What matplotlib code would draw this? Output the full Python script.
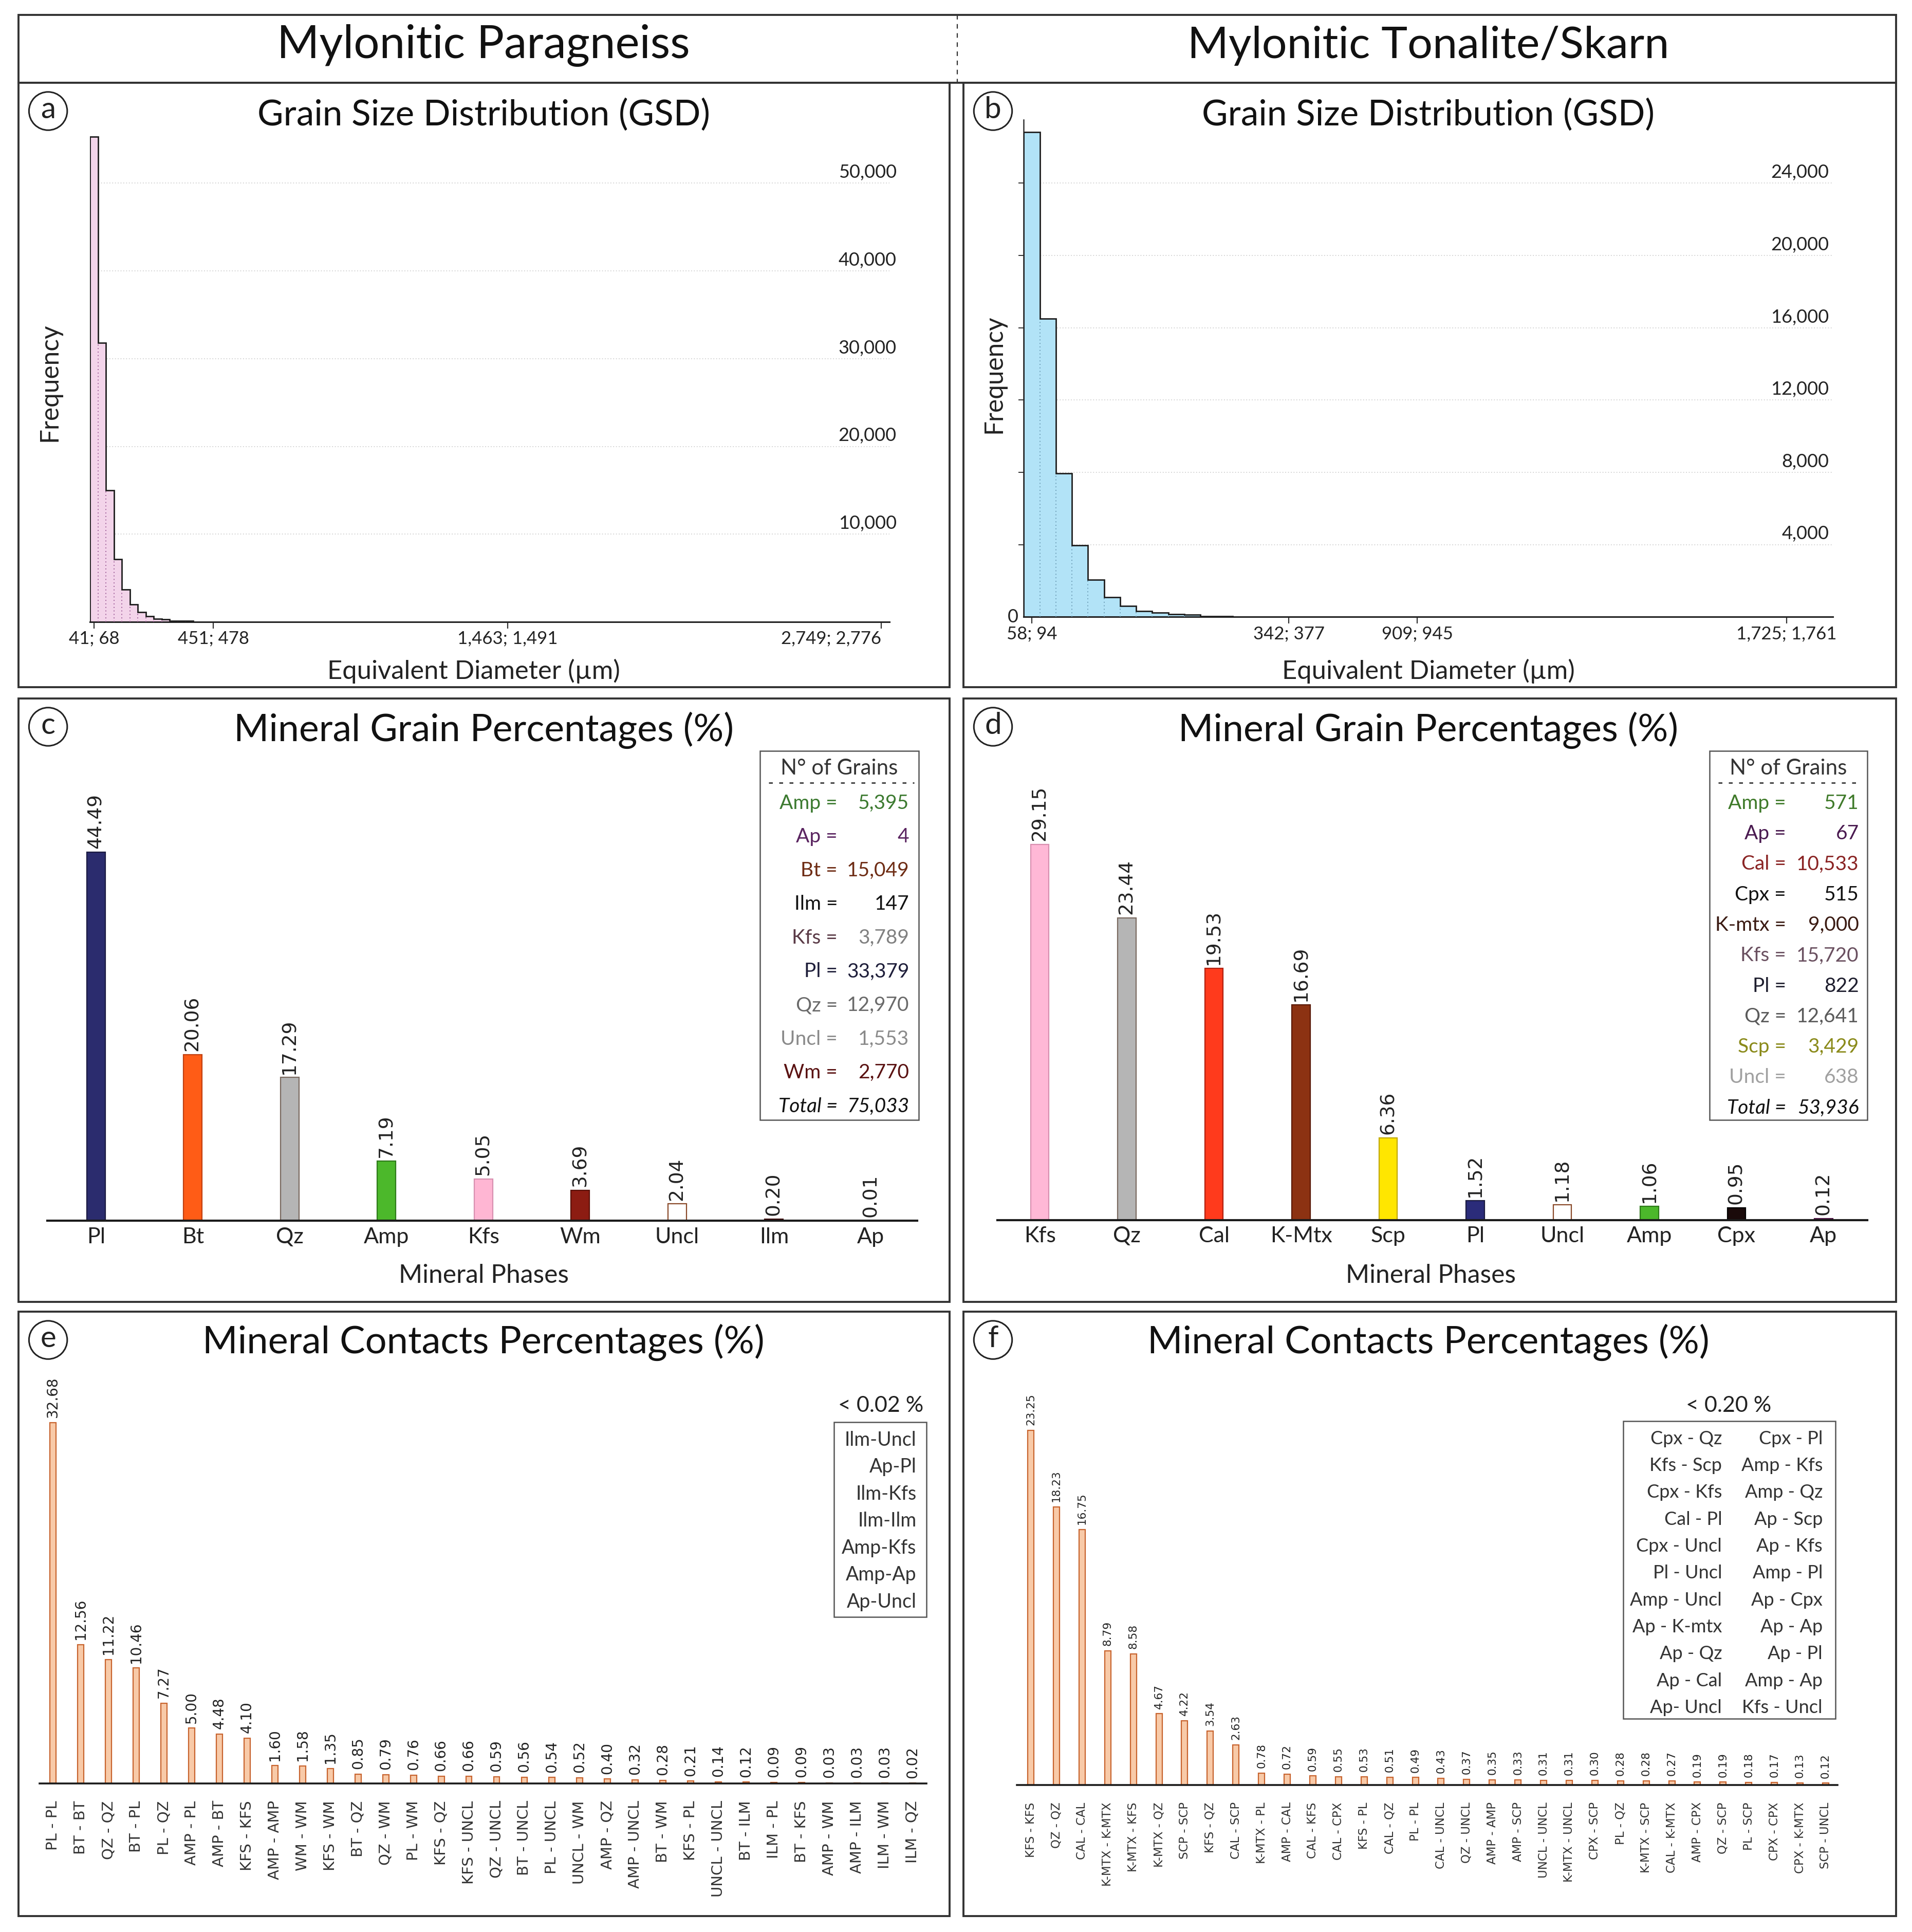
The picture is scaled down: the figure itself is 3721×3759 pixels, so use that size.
import matplotlib
matplotlib.use('Agg')
import matplotlib.pyplot as plt
import numpy as np
from matplotlib.patches import Rectangle, Ellipse
from matplotlib.lines import Line2D
from matplotlib import font_manager as fm

# ---------------- data ----------------
gsd_a_start = 41.0
gsd_a_width = 27.35
gsd_a_counts = [55290, 31790, 15020, 7130, 3710, 2010, 1095, 625, 350, 310, 135, 135, 135]
gsd_a_tick_bins = [0, 15, 52, 99]
gsd_a_tick_labels = ["41; 68", "451; 478", "1,463; 1,491", "2,749; 2,776"]
gsd_a_yticks = [10000, 20000, 30000, 40000, 50000]

gsd_b_start = 58.0
gsd_b_width = 35.5
gsd_b_counts = [26830, 16500, 7950, 3950, 2050, 1100, 613, 321, 243, 146, 126, 50, 50]
gsd_b_tick_bins = [0, 16, 24, 47]
gsd_b_tick_labels = ["58; 94", "342; 377", "909; 945", "1,725; 1,761"]
gsd_b_yticks = [4000, 8000, 12000, 16000, 20000, 24000]

minerals_c = ["Pl", "Bt", "Qz", "Amp", "Kfs", "Wm", "Uncl", "Ilm", "Ap"]
pct_c = [44.49, 20.06, 17.29, 7.19, 5.05, 3.69, 2.04, 0.20, 0.01]
colors_c = ["#2b2c6e", "#ff5c16", "#b5b5b5", "#4cb82b", "#ffb6d3", "#8c1c12", "#ffffff", "#5a1c1c", "#7a2a6a"]
edges_c = ["#1a1a40", "#c04010", "#7a6a60", "#2e7a1a", "#d890b0", "#5a1008", "#8a4a2a", "#3a0a0a", "#4a1040"]
grains_c_names = ["Amp", "Ap", "Bt", "Ilm", "Kfs", "Pl", "Qz", "Uncl", "Wm"]
grains_c_counts = [5395, 4, 15049, 147, 3789, 33379, 12970, 1553, 2770]
grains_c_total = 75033
grains_c_colors = ["#3c7a30", "#5a2460", "#6e2c14", "#111111", "#5a3a46", "#1e1e3a", "#6a6a6a", "#8a8a8a", "#5a1212"]
grains_c_valcolors = ["#3c7a30", "#5a2460", "#6e2c14", "#111111", "#808080", "#1e1e3a", "#6a6a6a", "#8a8a8a", "#5a1212"]

minerals_d = ["Kfs", "Qz", "Cal", "K-Mtx", "Scp", "Pl", "Uncl", "Amp", "Cpx", "Ap"]
pct_d = [29.15, 23.44, 19.53, 16.69, 6.36, 1.52, 1.18, 1.06, 0.95, 0.12]
colors_d = ["#ffb8d6", "#b5b5b5", "#ff3a1c", "#8c3212", "#ffe600", "#2b2c7a", "#ffffff", "#4cb82b", "#1a0a0a", "#8a2a6a"]
edges_d = ["#d890b0", "#7a6a60", "#b02010", "#5a1a08", "#c0a800", "#1a1a40", "#8a4a2a", "#2e7a1a", "#000000", "#4a1040"]
grains_d_names = ["Amp", "Ap", "Cal", "Cpx", "K-mtx", "Kfs", "Pl", "Qz", "Scp", "Uncl"]
grains_d_counts = [571, 67, 10533, 515, 9000, 15720, 822, 12641, 3429, 638]
grains_d_total = 53936
grains_d_colors = ["#3f7a2a", "#4a1a50", "#8a2424", "#111111", "#3a1a12", "#6a5060", "#1e1e2e", "#5a5a5a", "#8a8a1a", "#a0a0a0"]

contacts_e = ["PL - PL", "BT - BT", "QZ - QZ", "BT - PL", "PL - QZ", "AMP - PL", "AMP - BT", "KFS - KFS",
              "AMP - AMP", "WM - WM", "KFS - WM", "BT - QZ", "QZ - WM", "PL - WM", "KFS - QZ", "KFS - UNCL",
              "QZ - UNCL", "BT - UNCL", "PL - UNCL", "UNCL - WM", "AMP - QZ", "AMP - UNCL", "BT - WM", "KFS - PL",
              "UNCL - UNCL", "BT - ILM", "ILM - PL", "BT - KFS", "AMP - WM", "AMP - ILM", "ILM - WM", "ILM - QZ"]
pct_e = [32.68, 12.56, 11.22, 10.46, 7.27, 5.00, 4.48, 4.10, 1.60, 1.58, 1.35, 0.85, 0.79, 0.76, 0.66, 0.66,
         0.59, 0.56, 0.54, 0.52, 0.40, 0.32, 0.28, 0.21, 0.14, 0.12, 0.09, 0.09, 0.03, 0.03, 0.03, 0.02]
minor_e = ["Ilm-Uncl", "Ap-Pl", "Ilm-Kfs", "Ilm-Ilm", "Amp-Kfs", "Amp-Ap", "Ap-Uncl"]

contacts_f = ["KFS - KFS", "QZ - QZ", "CAL - CAL", "K-MTX - K-MTX", "K-MTX - KFS", "K-MTX - QZ", "SCP - SCP",
              "KFS - QZ", "CAL - SCP", "K-MTX - PL", "AMP - CAL", "CAL - KFS", "CAL - CPX", "KFS - PL", "CAL - QZ",
              "PL - PL", "CAL - UNCL", "QZ - UNCL", "AMP - AMP", "AMP - SCP", "UNCL - UNCL", "K-MTX - UNCL",
              "CPX - SCP", "PL - QZ", "K-MTX - SCP", "CAL - K-MTX", "AMP - CPX", "QZ - SCP", "PL - SCP",
              "CPX - CPX", "CPX - K-MTX", "SCP - UNCL"]
pct_f = [23.25, 18.23, 16.75, 8.79, 8.58, 4.67, 4.22, 3.54, 2.63, 0.78, 0.72, 0.59, 0.55, 0.53, 0.51, 0.49,
         0.43, 0.37, 0.35, 0.33, 0.31, 0.31, 0.30, 0.28, 0.28, 0.27, 0.19, 0.19, 0.18, 0.17, 0.13, 0.12]
minor_f_col1 = ["Cpx - Qz", "Kfs - Scp", "Cpx - Kfs", "Cal - Pl", "Cpx - Uncl", "Pl - Uncl", "Amp - Uncl",
                "Ap - K-mtx", "Ap - Qz", "Ap - Cal", "Ap- Uncl"]
minor_f_col2 = ["Cpx - Pl", "Amp - Kfs", "Amp - Qz", "Ap - Scp", "Ap - Kfs", "Amp - Pl", "Ap - Cpx",
                "Ap - Ap", "Ap - Pl", "Amp - Ap", "Kfs - Uncl"]

# ---------------- setup ----------------
W, H = 3721, 3759
S = 2.4006
DW, DH = W / S, H / S
SANS = ['Lato', 'DejaVu Sans']
VERD = ['DejaVu Sans']


def has_font(name):
    try:
        fm.findfont(name, fallback_to_default=False)
        return True
    except Exception:
        return False


NARROW = ['Liberation Sans Narrow', 'Lato', 'DejaVu Sans'] if has_font('Liberation Sans Narrow') else SANS

plt.rcParams['font.family'] = SANS
fig = plt.figure(figsize=(W / 100, H / 100), dpi=100)
fig.patch.set_facecolor('white')


def fx(x):
    return x / DW


def fy(y):
    return 1 - y / DH


def add_ax(x0, y0, x1, y1):
    return fig.add_axes([fx(x0), fy(y1), (x1 - x0) / DW, (y1 - y0) / DH])


def ftext(x, y, s, **kw):
    kw.setdefault('family', SANS)
    return fig.text(fx(x), fy(y), s, **kw)


renderer = fig.canvas.get_renderer()


def fit(t, target_disp):
    w = t.get_window_extent(renderer).width
    t.set_fontsize(t.get_fontsize() * target_disp * S / w)


BORDER = '#333333'


def box(x0, y0, x1, y1, lw=2.8, color=BORDER):
    fig.add_artist(Rectangle((fx(x0), fy(y1)), (x1 - x0) / DW, (y1 - y0) / DH, transform=fig.transFigure,
                             fill=False, lw=lw, edgecolor=color))


def circ_label(x, y, s):
    fig.add_artist(Ellipse((fx(x), fy(y)), 31 / DW, 31 / DH, transform=fig.transFigure, fill=False,
                           lw=2.2, edgecolor='#222222'))
    ftext(x, y - 1, s, ha='center', va='center', fontsize=42, color='#222222')


# header
box(15, 12, 1537, 67)
fig.add_artist(Line2D([fx(776), fx(776)], [fy(12), fy(67)], transform=fig.transFigure, color='#333333',
                      lw=1.6, ls=(0, (4, 4))))
t = ftext(392, 37, "Mylonitic Paragneiss", ha='center', va='center', fontsize=50, color='#111111')
fit(t, 335)
t = ftext(1158, 37, "Mylonitic Tonalite/Skarn", ha='center', va='center', fontsize=50, color='#111111')
fit(t, 390)

panels = {'a': (15, 67, 770, 557), 'b': (781, 67, 1537, 557),
          'c': (15, 566, 770, 1055), 'd': (781, 566, 1537, 1055),
          'e': (15, 1063, 770, 1553), 'f': (781, 1063, 1537, 1553)}
for k, (x0, y0, x1, y1) in panels.items():
    box(x0, y0, x1, y1)
    circ_label(x0 + 24, y0 + 23, k)

titles = {'a': ("Grain Size Distribution (GSD)", 367, 93), 'b': ("Grain Size Distribution (GSD)", 367, 93),
          'c': ("Mineral Grain Percentages (%)", 405, 592), 'd': ("Mineral Grain Percentages (%)", 405, 592),
          'e': ("Mineral Contacts Percentages (%)", 455, 1088), 'f': ("Mineral Contacts Percentages (%)", 455, 1088)}
for k, (s, wdt, yy) in titles.items():
    cx = 392 if k in 'ace' else 1158
    t = ftext(cx, yy, s, ha='center', va='center', fontsize=50, color='#111111')
    fit(t, wdt)


# ---------------- GSD histograms ----------------
def gsd(ax, start, width, counts, tick_bins, tick_labels, yticks, xmax, ymax, fill, dotc, lab_x, left_spine,
        last_right):
    counts = np.array(counts, dtype=float)
    edges = start + width * np.arange(len(counts) + 1)
    ax.bar(edges[:-1], counts, width=width, align='edge', color=fill, edgecolor='none', zorder=2)
    inner = np.minimum(counts[:-1], counts[1:])
    ax.vlines(edges[1:-1], 0, inner, colors=dotc, linestyles=(0, (1, 2.5)), lw=1.4, zorder=3)
    ax.stairs(counts, edges, color='#1e1e1e', lw=2.0, zorder=4)
    for v in yticks:
        ax.axhline(v, color='#cfcfcf', lw=1.3, ls=(0, (1, 2)), zorder=1)
        ax.annotate(f"{v:,}", xy=(lab_x, v), xycoords=('axes fraction', 'data'), xytext=(0, 3),
                    textcoords='offset points', ha='right', va='bottom', fontsize=26, color='#222222',
                    family=SANS)
    ax.set_xlim(start, xmax)
    ax.set_ylim(0, ymax)
    centers = [start + width * (b + 0.5) for b in tick_bins]
    ax.set_xticks(centers)
    ax.set_xticklabels(tick_labels, fontsize=25, color='#222222')
    if last_right:
        ax.get_xticklabels()[-1].set_horizontalalignment('right')
    ax.tick_params(axis='x', length=9, width=1.6, color='#333333', pad=3)
    for sp in ['top', 'right']:
        ax.spines[sp].set_visible(False)
    ax.spines['bottom'].set_linewidth(2.2)
    ax.spines['bottom'].set_color('#222222')
    if left_spine:
        ax.spines['left'].set_linewidth(1.8)
        ax.spines['left'].set_color('#333333')
        ax.set_yticks(yticks)
        ax.set_yticklabels([])
        ax.tick_params(axis='y', length=7, width=1.4, color='#333333', direction='out')
    else:
        ax.set_yticks([])
        ax.spines['left'].set_visible(False)
    ax.patch.set_alpha(0)


ax_a = add_ax(73, 105.8, 721, 504)
gsd(ax_a, gsd_a_start, gsd_a_width, gsd_a_counts, gsd_a_tick_bins, gsd_a_tick_labels, gsd_a_yticks,
    gsd_a_start + 100.5 * gsd_a_width, 56000, '#f3d4ea', '#a0609a', 1.009, False, True)

ax_b = add_ax(830, 97.2, 1486, 500)
gsd(ax_b, gsd_b_start, gsd_b_width, gsd_b_counts, gsd_b_tick_bins, gsd_b_tick_labels, gsd_b_yticks,
    1847, 27500, '#b2e3f7', '#6f9fb8', 0.995, True, False)
ax_b.annotate("0", xy=(0, 0), xycoords='axes fraction', xytext=(-8, 0), textcoords='offset points',
              ha='right', va='center', fontsize=26, color='#222222')

for cx, cy in [(40, 310), (806, 303)]:
    t = ftext(cx, cy, "Frequency", ha='center', va='center', rotation=90, fontsize=30, color='#222222')
    fit_w = t.get_window_extent(renderer).height
    t.set_fontsize(t.get_fontsize() * 96 * S / fit_w)
for cx in [384, 1158]:
    t = ftext(cx, 544, "Equivalent Diameter (µm)", ha='center', va='center', fontsize=30, color='#222222')
    fit(t, 237)


# ---------------- mineral grain percentages ----------------
def grain_bars(ax, names, vals, cols, ecols, bw, xlim, ymax, fs_val):
    x = np.arange(len(names))
    ax.bar(x, vals, width=bw, color=cols, edgecolor=ecols, lw=1.6, zorder=2)
    for xi, v in zip(x, vals):
        ax.annotate(f"{v:.2f}", xy=(xi, v), xytext=(0, 5), textcoords='offset points', rotation=90,
                    ha='center', va='bottom', fontsize=fs_val, color='#222222', family=VERD)
    ax.set_xlim(*xlim)
    ax.set_ylim(0, ymax)
    ax.set_xticks(x)
    ax.set_xticklabels(names, fontsize=31, color='#222222')
    ax.tick_params(axis='x', length=0, pad=9)
    ax.set_yticks([])
    for sp in ['top', 'right', 'left']:
        ax.spines[sp].set_visible(False)
    ax.spines['bottom'].set_linewidth(3.0)
    ax.spines['bottom'].set_color('#1a1a1a')
    ax.patch.set_alpha(0)


ax_c = add_ax(38.5, 653.5, 743.7, 989.5)
grain_bars(ax_c, minerals_c, pct_c, colors_c, edges_c, 0.19, (-0.5, 8.48), 50, 27)
ax_d = add_ax(808.4, 654.7, 1513.6, 988.8)
grain_bars(ax_d, minerals_d, pct_d, colors_d, edges_d, 0.21, (-0.49, 9.5), 32, 27)

for cx in [392, 1160]:
    t = ftext(cx, 1034, "Mineral Phases", ha='center', va='center', fontsize=30, color='#222222')
    fit(t, 138)


def grains_box(x0, y0, x1, y1, eq_x, num_x, y_first, dy, names, counts, cols, valcols, total):
    box(x0, y0, x1, y1, lw=1.8, color='#555555')
    t = ftext((x0 + x1) / 2, 622.7, "N° of Grains", ha='center', va='center', fontsize=30, color='#333333')
    fit(t, 95)
    fig.add_artist(Line2D([fx(x0 + 7), fx(x1 - 4)], [fy(634.5), fy(634.5)], transform=fig.transFigure,
                          color='#222222', lw=1.8, ls=(0, (3, 5))))
    for i, (n, c, col, vc) in enumerate(zip(names, counts, cols, valcols)):
        yy = y_first + dy * i
        ftext(eq_x, yy, f"{n} =", ha='right', va='center', fontsize=28, color=col)
        ftext(num_x, yy, f"{c:,}", ha='right', va='center', fontsize=28, color=vc)
    yy = y_first + dy * len(names)
    ftext(eq_x, yy, "Total =", ha='right', va='center', fontsize=28, color='#111111', style='italic')
    ftext(num_x, yy, f"{total:,}", ha='right', va='center', fontsize=28, color='#111111', style='italic')


grains_box(616, 608.6, 745, 907.7, 679, 737, 651, 27.3, grains_c_names, grains_c_counts,
           grains_c_colors, grains_c_valcolors, grains_c_total)
grains_box(1386, 608.6, 1513.6, 907.7, 1448, 1507, 651, 24.7, grains_d_names, grains_d_counts,
           grains_d_colors, grains_d_colors, grains_d_total)


# ---------------- contacts ----------------
def contact_bars(ax, names, vals, bw, xlim, ymax, fs_val, fs_tick, pad):
    x = np.arange(len(names))
    ax.bar(x, vals, width=bw, color='#f8caa8', edgecolor='#c8642e', lw=1.6, zorder=2)
    for xi, v in zip(x, vals):
        ax.annotate(f"{v:.2f}", xy=(xi, v), xytext=(0, 7), textcoords='offset points', rotation=90,
                    ha='center', va='bottom', fontsize=fs_val, color='#222222', family=VERD)
    ax.set_xlim(*xlim)
    ax.set_ylim(0, ymax)
    ax.set_xticks(x)
    ax.set_xticklabels(names, rotation=90, fontsize=fs_tick, color='#333333', family=VERD, va='top')
    ax.tick_params(axis='x', length=0, pad=pad)
    ax.set_yticks([])
    for sp in ['top', 'right', 'left']:
        ax.spines[sp].set_visible(False)
    ax.spines['bottom'].set_linewidth(2.6)
    ax.spines['bottom'].set_color('#1a1a1a')
    ax.patch.set_alpha(0)


ax_e = add_ax(32.2, 1141.3, 751, 1445.4)
contact_bars(ax_e, contacts_e, pct_e, 0.22, (-0.48, 31.5), 34, 20, 21, 24)
ax_f = add_ax(824.2, 1143.7, 1489.8, 1446.7)
contact_bars(ax_f, contacts_f, pct_f, 0.24, (-0.55, 31.47), 24.5, 15.5, 16.5, 24)

# minor contacts boxes
ftext(714, 1139.4, "< 0.02 %", ha='center', va='center', fontsize=31, color='#222222')
box(676, 1152.8, 751, 1310.6, lw=1.8, color='#555555')
for i, s in enumerate(minor_e):
    ftext(743, 1167 + 21.9 * i, s, ha='right', va='center', fontsize=27, color='#333333', family=NARROW)

ftext(1401.5, 1139.4, "< 0.20 %", ha='center', va='center', fontsize=31, color='#222222')
box(1316, 1152, 1488, 1393, lw=1.8, color='#555555')
for i, (s1, s2) in enumerate(zip(minor_f_col1, minor_f_col2)):
    ftext(1396, 1166 + 21.8 * i, s1, ha='right', va='center', fontsize=26, color='#333333', family=NARROW)
    ftext(1477.5, 1166 + 21.8 * i, s2, ha='right', va='center', fontsize=26, color='#333333', family=NARROW)

fig.savefig('out.png', dpi=100, facecolor='white')
